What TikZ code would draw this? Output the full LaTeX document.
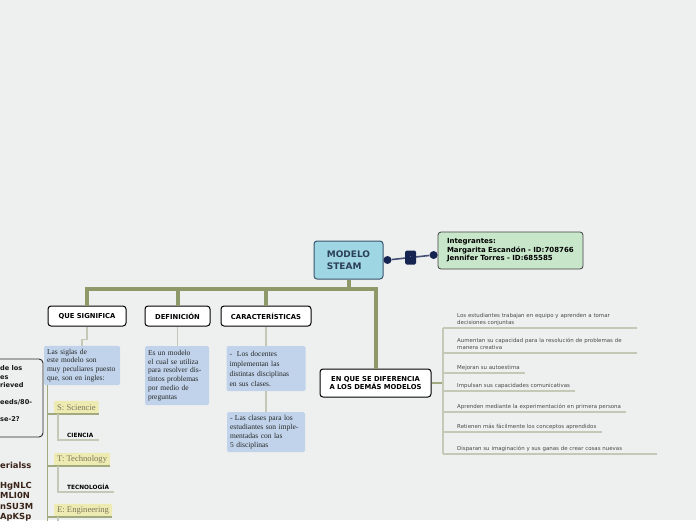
\documentclass[tikz,border=0pt]{standalone}
\usepackage{fontspec}
\setmainfont{Liberation Serif}
\newfontfamily\mapsans{DejaVu Sans}
\usepackage{tikz}
\usetikzlibrary{positioning}

\definecolor{canvas}{RGB}{238,240,239}
\definecolor{branchgreen}{RGB}{141,153,104}
\definecolor{stemgreen}{RGB}{160,170,126}
\definecolor{twiggray}{RGB}{196,200,182}
\definecolor{notecolor}{RGB}{192,211,234}
\definecolor{tagcolor}{RGB}{238,235,178}
\definecolor{tagtext}{RGB}{125,118,92}
\definecolor{teamcolor}{RGB}{200,231,202}
\definecolor{rootblue}{RGB}{158,214,228}
\definecolor{rootedge}{RGB}{58,84,108}
\definecolor{roottext}{RGB}{44,64,86}
\definecolor{navy}{RGB}{22,36,82}
\definecolor{itemtext}{RGB}{72,72,72}
\definecolor{codebrown}{RGB}{58,36,26}

\begin{document}
\begin{tikzpicture}[
  x=1pt,
  y=-1pt,
  root/.style={draw=rootedge,line width=1pt,rounded corners=3pt,fill=rootblue,
    minimum width=69pt,minimum height=38pt,inner sep=0pt,align=left,
    text=roottext,font=\mapsans\bfseries\fontsize{9}{11.5}\selectfont},
  team/.style={draw=black!75,line width=0.8pt,rounded corners=3pt,fill=teamcolor,
    minimum width=145pt,minimum height=37pt,inner sep=0pt,align=left,
    text width=127pt,font=\mapsans\bfseries\fontsize{7}{8.6}\selectfont},
  topic/.style={draw=black,line width=1pt,rounded corners=3pt,fill=white,
    minimum height=20pt,inner sep=0pt,align=center,
    font=\mapsans\bfseries\fontsize{6.8}{8.2}\selectfont},
  note/.style={fill=notecolor,rounded corners=1.5pt,inner sep=3pt,align=left,
    text=black!85,font=\fontsize{7.5}{8.8}\selectfont},
  tag/.style={fill=tagcolor,rounded corners=1pt,minimum height=13pt,inner xsep=3pt,
    inner ysep=0pt,text=tagtext,font=\fontsize{8.6}{9}\selectfont},
  sub/.style={inner xsep=5pt,inner ysep=2pt,text depth=0pt,
    font=\mapsans\bfseries\fontsize{5.8}{6}\selectfont},
  item/.style={inner xsep=5pt,inner ysep=2pt,text depth=1.5pt,align=left,
    text=itemtext,font=\mapsans\fontsize{5.45}{7}\selectfont},
  twolines/.style={text depth=8.5pt,text width=175pt},
  branch/.style={draw=branchgreen,line width=4pt},
  stem/.style={draw=stemgreen,line width=1.1pt},
  twig/.style={draw=twiggray,line width=1.1pt},
  link/.style={draw=navy!80,line width=1.6pt},
  dot/.style={circle,fill=navy,minimum size=8pt,inner sep=0pt},
  hub/.style={fill=navy,rounded corners=1.5pt,minimum width=11pt,minimum height=14pt,
    inner sep=0pt,text=white,font=\mapsans\fontsize{5}{5}\selectfont},
  cutbox/.style={draw=black!85,line width=0.9pt,rounded corners=4pt},
  cuttext/.style={inner sep=0pt,align=left,text=black!90,
    font=\mapsans\bfseries\fontsize{6.6}{8.4}\selectfont},
  codetext/.style={inner sep=0pt,align=left,text=codebrown,
    font=\mapsans\bfseries\fontsize{8.4}{10.3}\selectfont}
]
\useasboundingbox (0,0) rectangle (696,520);
\clip (0,0) rectangle (696,520);
\fill[canvas] (0,0) rectangle (696,520);

% Central topic and team box.
\node[root] (modelo) at (348.5,260) {MODELO\\STEAM};
\node[team] (team) at (510.5,250.5)
  {Integrantes:\\Margarita Escandón - ID:708766\\Jennifer Torres - ID:685585};

\node[dot] (dota) at ([xshift=4pt]modelo.east) {};
\node[dot] (dotb) at ([xshift=-4pt,yshift=-4.5pt]team.west) {};
\draw[link] (dota) -- (dotb) node[midway,hub] (knot) {.};

% Main topics.
\node[topic,minimum width=78pt] (que) at (87,316) {QUE SIGNIFICA};
\node[topic,minimum width=65pt] (defi) at (177.5,316) {DEFINICIÓN};
\node[topic,minimum width=90pt] (carac) at (266,316) {CARACTERÍSTICAS};
\node[topic,minimum width=111pt,minimum height=28pt] (diff) at (375.5,383)
  {EN QUE SE DIFERENCIA\\A LOS DEMÁS MODELOS};

\coordinate (bar) at (0,289);
\draw[branch] (modelo.south) -- (modelo.south |- bar);
\draw[branch] (que.north) |- (diff.north |- bar) -- (diff.north);
\draw[branch] (defi.north) -- (defi.north |- bar);
\draw[branch] (carac.north) -- (carac.north |- bar);

% Notes under the topics.
\node[note,minimum width=76pt,minimum height=39pt,text width=70pt] (siglas) at (82,365.5)
  {Las siglas de\\este modelo son\\muy peculiares puesto\\que, son en ingles:};
\node[note,minimum width=64pt,minimum height=59pt,text width=58pt] (defn) at (177,375.5)
  {Es un modelo\\el cual se utiliza\\para resolver dis-\\tintos problemas\\por medio de\\preguntas};
\node[note,minimum width=79pt,minimum height=45pt,text width=73pt,
  font=\fontsize{7.5}{10}\selectfont] (doc) at (266,368.5)
  {-\ \ Los docentes\\implementan las\\distintas disciplinas\\en sus clases.};
\node[note,minimum width=78pt,minimum height=40pt,text width=72pt] (clases) at (266,432)
  {- Las clases para los\\estudiantes son imple-\\mentadas con las\\5 disciplinas};

\draw[twig] (que.south) -- ++(0,13) -| (siglas.north);
\draw[twig] (defi.south) -- (defi.south |- defn.north);
\draw[twig] (carac.south) -- (doc.north);
\draw[twig] (doc.south) -- (clases.north);

% STEAM letters.
\node[tag,anchor=south west] (sci) at (54,414) {S: Sciencie};
\node[tag,anchor=south west] (tech) at (54,466) {T: Technology};
\node[tag,anchor=south west] (engi) at (54,517) {E: Engineering};
\node[sub,anchor=south west] (cien) at (62,440) {CIENCIA};
\node[sub,anchor=south west] (tecn) at (62,492) {TECNOLOGÍA};

\coordinate (sigfoot) at ([xshift=4pt]siglas.south west);
\draw[stem] (sigfoot) -- (sigfoot |- 0,530);
\draw[stem] (sci.south east) -- (sci.south east -| sigfoot);
\draw[stem] (tech.south east) -- (tech.south east -| sigfoot);
\draw[stem] (engi.south east) -- (engi.south east -| sigfoot);
\draw[twig] ([xshift=4pt]sci.south west) |- (cien.south east);
\draw[twig] ([xshift=4pt]tech.south west) |- (tecn.south east);
\draw[twig] ([xshift=4pt]engi.south west) -- ++(0,12);

% Differences list.
\node[item,twolines,anchor=south west] (d1) at (452,328)
  {Los estudiantes trabajan en equipo y aprenden a tomar\\decisiones conjuntas};
\node[item,twolines,anchor=south west] (d2) at (452,353)
  {Aumentan su capacidad para la resolución de problemas de\\manera creativa};
\node[item,anchor=south west] (d3) at (452,373) {Mejoran su autoestima};
\node[item,anchor=south west] (d4) at (452,391) {Impulsan sus capacidades comunicativas};
\node[item,anchor=south west] (d5) at (452,412)
  {Aprenden mediante la experimentación en primera persona};
\node[item,anchor=south west] (d6) at (452,432)
  {Retienen más fácilmente los conceptos aprendidos};
\node[item,anchor=south west,text width=195pt] (d7) at (452,454)
  {Disparan su imaginación y sus ganas de crear cosas nuevas};

\coordinate (listtrunk) at (443,383);
\draw[stem] (diff.east) -- (diff.east -| listtrunk);
\draw[twig] (d1.south east -| listtrunk) -- (d7.south east -| listtrunk);
\draw[twig] (d1.south east) -- (d1.south east -| listtrunk);
\draw[twig] (d2.south east) -- (d2.south east -| listtrunk);
\draw[twig] (d3.south east) -- (d3.south east -| listtrunk);
\draw[twig] (d4.south east) -- (d4.south east -| listtrunk);
\draw[twig] (d5.south east) -- (d5.south east -| listtrunk);
\draw[twig] (d6.south east) -- (d6.south east -| listtrunk);
\draw[twig] (d7.south east) -- (d7.south east -| listtrunk);

% Parts cut off at the left edge.
\draw[cutbox] (-30,359) rectangle (43,437);
\node[cuttext,anchor=north west] (cutnote) at (0,365.5)
  {de los\\es\\rieved\\\mbox{}\\eeds/80-\\\mbox{}\\se-2?};
\node[codetext,anchor=north west] (cutcode) at (0,461.5)
  {erialss\\\mbox{}\\HgNLC\\MLI0N\\nSU3M\\ApKSp};

\end{tikzpicture}
\end{document}
